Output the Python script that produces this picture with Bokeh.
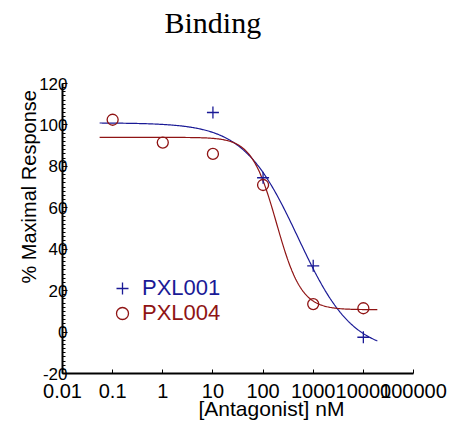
import numpy as np
from bokeh.plotting import figure
from bokeh.models import (Range1d, FixedTicker, SingleIntervalTicker, Legend, LegendItem,
                          Title, LinearAxis)
from bokeh.embed import file_html
from bokeh.resources import INLINE

# ---- data ----
title_text = "Binding"
x_label = "[Antagonist] nM"
y_label = "% Maximal Response"

pxl001_conc = [10, 100, 1000, 10000]
pxl001_resp = [106, 74.5, 32, -2.5]

pxl004_conc = [0.1, 1, 10, 100, 1000, 10000]
pxl004_resp = [102.5, 91.5, 86, 71, 13.5, 11.5]

# fitted 4-parameter logistic curves (top, bottom, log10 IC50, hill)
pxl001_fit = dict(top=101.0, bottom=-10.0, log_ic50=2.70, hill=0.80)
pxl004_fit = dict(top=94.0, bottom=10.8, log_ic50=2.27, hill=1.75)
curve_x_min = 0.055
curve_x_max = 19000

x_ticks = [0.01, 0.1, 1, 10, 100, 1000, 10000, 100000]
x_tick_labels = ["0.01", "0.1", "1", "10", "100", "1000", "10000", "100000"]
y_ticks = [-20, 0, 20, 40, 60, 80, 100, 120]
y_tick_labels = ["-20", "0", "20", "40", "60", "80", "100", "120"]
y_ticks_interval = 20

blue = "#1a1a96"
red = "#8f1414"


def four_pl(x, top, bottom, log_ic50, hill):
    return bottom + (top - bottom) / (1.0 + (x / 10 ** log_ic50) ** hill)


curve_x = np.logspace(np.log10(curve_x_min), np.log10(curve_x_max), 300)

W, H = 457, 421
FL, FT, FW, FH = 62, 83, 351, 290
p = figure(width=W, height=H, x_axis_type="log",
           x_range=Range1d(0.01, 100000), y_range=Range1d(-20, 120),
           output_backend="svg", toolbar_location=None,
           min_border_left=FL, min_border_right=W - FL - FW,
           min_border_top=FT, min_border_bottom=H - FT - FH)
p.outline_line_color = None
p.grid.visible = False
p.background_fill_color = "white"
p.border_fill_color = "white"
p.title.text = ""

xa = p.below[0]
ya = p.left[0]

# invisible spacer (white tick, empty label) between frame and title
spacer = LinearAxis(ticker=FixedTicker(ticks=[x_ticks[-1]], minor_ticks=[]),
                    major_tick_in=0, major_tick_out=45,
                    major_label_standoff=0, major_label_overrides={x_ticks[-1]: ""},
                    major_label_text_font_size="1px", axis_line_color=None,
                    major_tick_line_color="white", minor_tick_line_color=None)
p.add_layout(spacer, "above")
p.add_layout(Title(text=title_text, align="left", offset=102, standoff=0,
                   text_font="Liberation Serif", text_font_size="30px",
                   text_font_style="normal", text_color="black"), "above")

# curves
p.line(curve_x, four_pl(curve_x, **pxl001_fit), line_color=blue, line_width=1.2)
p.line(curve_x, four_pl(curve_x, **pxl004_fit), line_color=red, line_width=1.2)

# points
r1 = p.scatter(pxl001_conc, pxl001_resp, marker="cross", size=12,
               line_color=blue, line_width=1.3)
r2 = p.scatter(pxl004_conc, pxl004_resp, marker="circle", size=11,
               line_color=red, fill_color=None, line_width=1.3)

# axes
xa.ticker = FixedTicker(ticks=x_ticks, minor_ticks=[])
xa.major_label_overrides = {t: l for t, l in zip(x_ticks, x_tick_labels)}
xa.major_label_text_font = "Liberation Sans"
xa.major_label_text_font_size = "20px"
xa.major_label_text_color = "black"
xa.major_label_standoff = 10
xa.axis_line_width = 2
xa.axis_line_color = "black"
xa.major_tick_in = 4
xa.major_tick_out = 0
xa.minor_tick_line_color = None

ya.ticker = SingleIntervalTicker(interval=y_ticks_interval, num_minor_ticks=10)
ya.major_label_overrides = {t: l for t, l in zip(y_ticks, y_tick_labels)}
ya.major_label_text_font = "Liberation Sans"
ya.major_label_text_font_size = "17px"
ya.major_label_text_color = "black"
ya.major_label_standoff = -5
ya.axis_line_width = 2
ya.axis_line_color = "black"
ya.major_tick_in = 5
ya.major_tick_out = 0
ya.minor_tick_in = 3
ya.minor_tick_out = 0

# axis titles (as side titles so they can be shifted like the reference)
p.add_layout(Title(text=x_label, align="left", offset=136, standoff=-11,
                   text_font="Liberation Sans", text_font_size="21px",
                   text_font_style="normal", text_color="black"), "below")
p.add_layout(Title(text=y_label, align="left", offset=90, standoff=-6,
                   text_font="Liberation Sans", text_font_size="20px",
                   text_font_style="normal", text_color="black"), "left")

# legends
def make_legend(label, renderer, color, loc):
    return Legend(items=[LegendItem(label=label, renderers=[renderer])], location=loc,
                  orientation="vertical", padding=0, margin=0, spacing=0,
                  glyph_width=30, glyph_height=30, label_height=40, label_standoff=5,
                  label_text_font="Liberation Sans", label_text_font_size="22px",
                  label_text_color=color, border_line_alpha=0, background_fill_alpha=0)

p.add_layout(make_legend("PXL001", r1, blue, (45, 65)))
p.add_layout(make_legend("PXL004", r2, red, (45, 40)))

open("out.html", "w").write(file_html(p, INLINE))
